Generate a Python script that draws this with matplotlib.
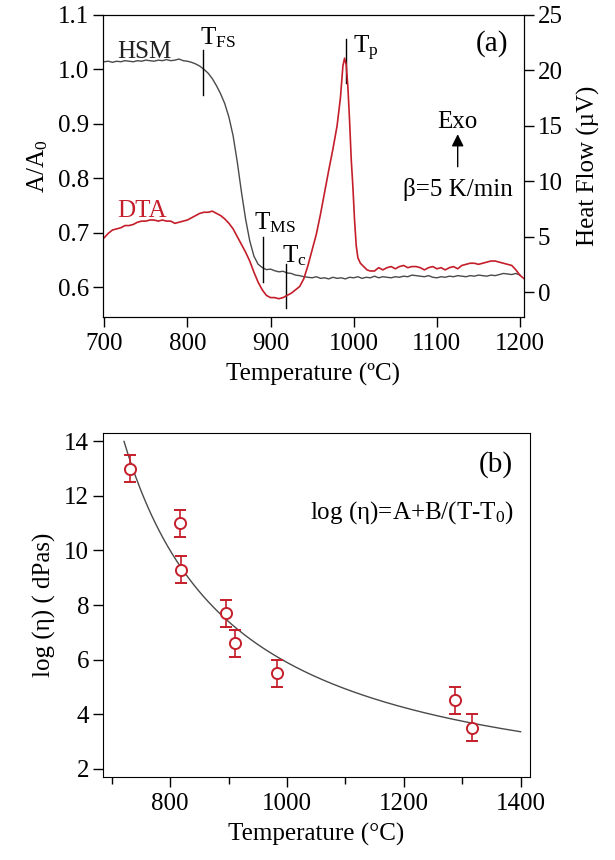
import numpy as np
import matplotlib
matplotlib.use("Agg")
import matplotlib.pyplot as plt
from matplotlib.ticker import MultipleLocator, FormatStrFormatter

plt.rcParams['font.family'] = ['Liberation Serif', 'DejaVu Serif']
plt.rcParams['mathtext.fontset'] = 'custom'
plt.rcParams['mathtext.rm'] = 'Liberation Serif'
plt.rcParams['mathtext.it'] = 'Liberation Serif:italic'
plt.rcParams['font.size'] = 18

ROJO = '#c41e2a'
GRIS = '#4a4a4a'

# (a) curva HSM: area relativa A/A0 frente a temperatura
hsm_T = [700, 705, 710, 715, 720, 725, 730, 735, 740, 745, 750, 755, 760, 765, 770,
         775, 780, 785, 790, 795, 800, 805, 810, 815, 820, 825, 830, 835, 840, 845,
         850, 855, 860, 865, 870, 875, 880, 885, 890, 895, 900, 905, 910, 915, 920,
         925, 930, 935, 940, 945, 950, 955, 960, 965, 970, 975, 980, 985, 990, 995,
         1000, 1005, 1010, 1015, 1020, 1025, 1030, 1035, 1040, 1045, 1050, 1055, 1060,
         1065, 1070, 1075, 1080, 1085, 1090, 1095, 1100, 1105, 1110, 1115, 1120, 1125,
         1130, 1135, 1140, 1145, 1150, 1155, 1160, 1165, 1170, 1175, 1180, 1185, 1190,
         1195, 1200]
hsm_A = [1.014, 1.015, 1.013, 1.015, 1.014, 1.016, 1.015, 1.014, 1.016, 1.015, 1.017,
         1.016, 1.015, 1.017, 1.016, 1.018, 1.016, 1.017, 1.019, 1.016, 1.015, 1.013,
         1.010, 1.006, 1.000, 0.993, 0.983, 0.970, 0.955, 0.937, 0.912, 0.878, 0.830,
         0.775, 0.725, 0.685, 0.657, 0.642, 0.636, 0.632, 0.633, 0.630, 0.628, 0.629,
         0.626, 0.625, 0.622, 0.621, 0.619, 0.618, 0.617, 0.619, 0.616, 0.617, 0.615,
         0.618, 0.616, 0.617, 0.615, 0.618, 0.617, 0.619, 0.616, 0.618, 0.617, 0.620,
         0.617, 0.619, 0.618, 0.617, 0.619, 0.618, 0.620, 0.619, 0.622, 0.621, 0.620,
         0.619, 0.621, 0.618, 0.617, 0.619, 0.618, 0.620, 0.619, 0.621, 0.620, 0.619,
         0.621, 0.620, 0.622, 0.621, 0.620, 0.622, 0.621, 0.623, 0.625, 0.624, 0.623,
         0.625, 0.622]

# (a) curva DTA: flujo de calor (uV)
dta_T = [700, 705, 710, 715, 720, 725, 730, 735, 740, 745, 750, 755, 760, 765, 770,
         775, 780, 785, 790, 795, 800, 805, 810, 815, 820, 825, 830, 835, 840, 845,
         850, 855, 860, 865, 870, 875, 880, 885, 890, 895, 900, 905, 910, 915, 920,
         925, 930, 935, 940, 945, 950, 955, 960, 965, 970, 975, 980, 984, 987, 989,
         991, 993, 995, 997, 999, 1001, 1003, 1005, 1008, 1012, 1016, 1020, 1025, 1030,
         1035, 1040, 1045, 1050, 1055, 1060, 1065, 1070, 1075, 1080, 1085, 1090, 1095,
         1100, 1105, 1110, 1115, 1120, 1125, 1130, 1135, 1140, 1145, 1150, 1155, 1160,
         1165, 1170, 1175, 1180, 1185, 1190, 1195, 1200, 1205]
dta_HF = [4.9, 5.3, 5.6, 5.7, 5.8, 6.0, 6.0, 6.1, 6.3, 6.4, 6.4, 6.5, 6.5, 6.4, 6.5,
          6.4, 6.4, 6.2, 6.3, 6.4, 6.5, 6.7, 6.9, 7.1, 7.2, 7.2, 7.3, 7.1, 6.9, 6.6,
          6.2, 5.7, 5.0, 4.3, 3.6, 2.8, 1.8, 0.9, 0.2, -0.3, -0.5, -0.5, -0.6, -0.5, -0.3,
          -0.1, 0.2, 0.5, 1.2, 2.4, 3.8, 5.2, 7.0, 9.0, 11.0, 12.9, 15.0, 17.5, 20.4, 21.1,
          20.5, 18.5, 15.5, 12.0, 9.5, 6.5, 4.2, 3.1, 2.6, 2.3, 2.0, 1.9, 1.9, 2.2,
          2.0, 2.2, 2.3, 2.1, 2.3, 2.4, 2.2, 2.3, 2.3, 2.2, 2.0, 2.2, 2.3,
          2.1, 2.2, 2.0, 2.2, 2.3, 2.1, 2.4, 2.5, 2.6, 2.6, 2.5, 2.6, 2.7,
          2.8, 2.8, 2.7, 2.6, 2.5, 2.4, 2.0, 1.5, 1.2]

# temperaturas caracteristicas (marcas verticales)
marcas = ['T$_{\\mathrm{FS}}$', 'T$_{\\mathrm{MS}}$', 'T$_{\\mathrm{c}}$', 'T$_{\\mathrm{p}}$']
marcas_T = [819, 891, 918, 991]

# (b) viscosidad
visc_T = [731, 817, 819, 895, 911, 983, 1287, 1316]
visc_log = [13.0, 11.0, 9.3, 7.7, 6.6, 5.5, 4.5, 3.5]
visc_err = [0.5, 0.5, 0.5, 0.5, 0.5, 0.5, 0.5, 0.5]
# parametros VFT del ajuste
A_vft, B_vft, T0_vft = 0.37, 2590.0, 531.0

fig = plt.figure(figsize=(6.15, 8.6), dpi=100)

# ---------------- panel (a) ----------------
ax = fig.add_axes([0.1675, 0.6314, 0.6845, 0.3512])
ax.plot(hsm_T, hsm_A, color=GRIS, lw=1)
ax.set_xlim(698.6, 1204.7)
ax.set_ylim(0.545, 1.1)
ax.set_yticks([0.6, 0.7, 0.8, 0.9, 1.0, 1.1])
ax.yaxis.set_major_formatter(FormatStrFormatter('%.1f'))
ax.set_xticks([700, 800, 900, 1000, 1100, 1200])
ax.tick_params(direction='out', length=7, width=1)
ax.tick_params(axis='x', pad=4.5)
ax.tick_params(axis='y', pad=3)
ax.set_xlabel('Temperature (ºC)', labelpad=6)
ax.set_ylabel('A/A$_0$', labelpad=6)

ax2 = ax.twinx()
ax2.plot(dta_T, dta_HF, color=ROJO, lw=1.2)
ax2.set_ylim(-2.25, 25)
ax2.set_yticks([0, 5, 10, 15, 20, 25])
ax2.tick_params(direction='out', length=7, width=1, pad=3)
ax2.set_ylabel('Heat Flow (µV)', labelpad=10)

# lineas de las temperaturas caracteristicas (en coordenadas del eje izquierdo)
tramos = [(0.953, 1.036), (0.610, 0.692), (0.561, 0.643), (0.975, 1.056)]
pos_txt = [(815.5, 1.045), (880.5, 0.706), (914, 0.646), (998.6, 1.030)]
for nombre, t, (y0, y1), (tx, ty) in zip(marcas, marcas_T, tramos, pos_txt):
    ax.plot([t, t], [y0, y1], color='k', lw=1)
    ax.text(tx, ty, nombre, ha='left', va='baseline')

ax.text(715.5, 1.021, 'HSM', va='baseline', color='#222222')
ax2.text(715.5, 6.74, 'DTA', va='baseline', color=ROJO)
ax.text(0.962, 0.95, '(a)', transform=ax.transAxes, ha='right', va='top', fontsize=21)
ax.text(1125, 0.904, 'Exo', ha='center', va='center')
ax.annotate('', xy=(1125, 0.886), xytext=(1125, 0.816),
            arrowprops=dict(arrowstyle='-|>', color='k', lw=1, mutation_scale=18))
ax.text(1125, 0.78, 'β=5 K/min', ha='center', va='center')

# ---------------- panel (b) ----------------
bx = fig.add_axes([0.1675, 0.0965, 0.6943, 0.400])
Tfit = np.linspace(721, 1400, 300)
bx.plot(Tfit, A_vft + B_vft / (Tfit - T0_vft), color=GRIS, lw=1)
bx.errorbar(visc_T, visc_log, yerr=visc_err, fmt='o', mfc='white', mec=ROJO,
            ecolor=ROJO, ms=8, mew=1.4, elinewidth=1.2, capsize=4, capthick=1.2)
bx.set_xlim(685, 1416)
bx.set_ylim(1.69, 14.31)
bx.set_xticks([800, 1000, 1200, 1400])
bx.xaxis.set_minor_locator(MultipleLocator(100))
bx.set_yticks([2, 4, 6, 8, 10, 12, 14])
bx.tick_params(direction='out', length=7, width=1)
bx.tick_params(axis='x', pad=4.5)
bx.tick_params(axis='y', pad=3)
bx.tick_params(which='minor', direction='out', length=5, width=1)
bx.set_xlabel('Temperature (°C)', labelpad=6)
bx.set_ylabel('log (η) ( dPas)', labelpad=6)
bx.text(0.96, 0.948, '(b)', transform=bx.transAxes, ha='right', va='top', fontsize=21)
bx.text(0.963, 0.77, 'log (η)=A+B/(T-T$_0$)', transform=bx.transAxes,
        ha='right', va='center')

fig.savefig('out.png', dpi=100)
